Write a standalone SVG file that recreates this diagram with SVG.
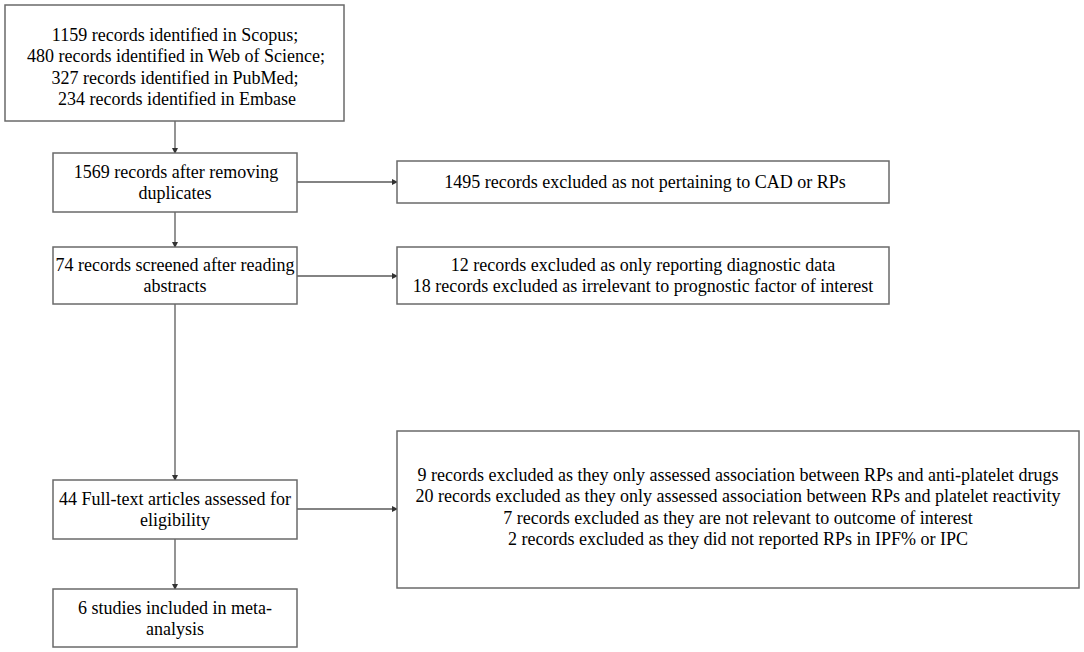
<svg xmlns="http://www.w3.org/2000/svg" width="1084" height="652" viewBox="0 0 1084 652">
<style>
.box{fill:#fff;stroke:#6a6a6a;stroke-width:1.5}
.t{font-family:"Liberation Serif","Times New Roman",serif;font-size:18px;fill:#000;text-anchor:middle}
.c{stroke:#5a5a5a;stroke-width:1.3;fill:none}
</style>
<defs>
<marker id="ah" markerWidth="6" markerHeight="6" refX="5" refY="3" orient="auto" markerUnits="userSpaceOnUse">
<path d="M0,0 L6,3 L0,6 Z" fill="#333"/>
</marker>
</defs>
<rect width="1084" height="652" fill="#fff"/>
<g id="connectors">
<line class="c" x1="175" y1="121" x2="175" y2="153" marker-end="url(#ah)"/>
<line class="c" x1="175" y1="212" x2="175" y2="247" marker-end="url(#ah)"/>
<line class="c" x1="175" y1="304" x2="175" y2="480" marker-end="url(#ah)"/>
<line class="c" x1="175" y1="539" x2="175" y2="589" marker-end="url(#ah)"/>
<line class="c" x1="297" y1="182" x2="397" y2="182" marker-end="url(#ah)"/>
<line class="c" x1="297" y1="276" x2="397" y2="276" marker-end="url(#ah)"/>
<line class="c" x1="297" y1="509" x2="397" y2="509" marker-end="url(#ah)"/>
</g>
<g id="n1">
<rect class="box" x="5" y="5" width="339" height="116"/>
<text class="t" x="175" y="41">1159 records identified in Scopus;</text>
<text class="t" x="176" y="62">480 records identified in Web of Science;</text>
<text class="t" x="175" y="84">327 records identified in PubMed;</text>
<text class="t" x="177" y="105">234 records identified in Embase</text>
</g>
<g id="n2">
<rect class="box" x="53" y="153" width="244" height="59"/>
<text class="t" x="176" y="178">1569 records after removing</text>
<text class="t" x="175" y="199">duplicates</text>
</g>
<g id="n3">
<rect class="box" x="53" y="247" width="244" height="57"/>
<text class="t" x="175" y="271">74 records screened after reading</text>
<text class="t" x="175" y="292">abstracts</text>
</g>
<g id="n4">
<rect class="box" x="53" y="480" width="244" height="59"/>
<text class="t" x="175" y="505">44 Full-text articles assessed for</text>
<text class="t" x="175" y="526">eligibility</text>
</g>
<g id="n5">
<rect class="box" x="53" y="589" width="244" height="58"/>
<text class="t" x="175" y="614">6 studies included in meta-</text>
<text class="t" x="175" y="635">analysis</text>
</g>
<g id="r1">
<rect class="box" x="397" y="161" width="492" height="42"/>
<text class="t" x="645" y="188">1495 records excluded as not pertaining to CAD or RPs</text>
</g>
<g id="r2">
<rect class="box" x="397" y="247" width="492" height="57"/>
<text class="t" x="643" y="271">12 records excluded as only reporting diagnostic data</text>
<text class="t" x="643" y="292">18 records excluded as irrelevant to prognostic factor of interest</text>
</g>
<g id="r3">
<rect class="box" x="397" y="431" width="682" height="157"/>
<text class="t" x="738" y="481">9 records excluded as they only assessed association between RPs and anti-platelet drugs</text>
<text class="t" x="738" y="502">20 records excluded as they only assessed association between RPs and platelet reactivity</text>
<text class="t" x="738" y="524">7 records excluded as they are not relevant to outcome of interest</text>
<text class="t" x="738" y="545">2 records excluded as they did not reported RPs in IPF% or IPC</text>
</g>
</svg>
